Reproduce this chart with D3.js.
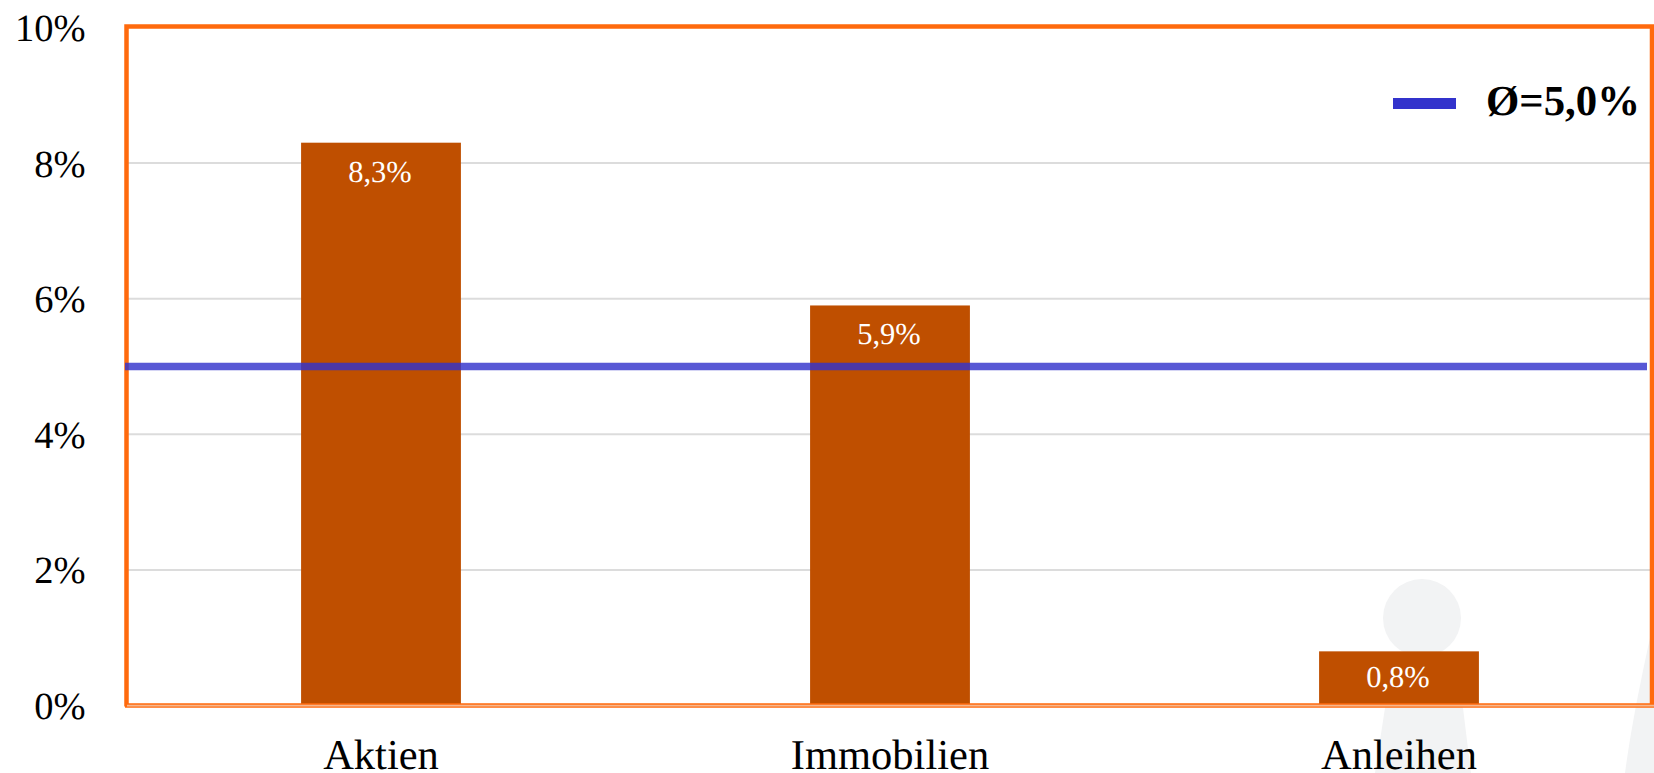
<!DOCTYPE html>
<html lang="de">
<head>
<meta charset="utf-8">
<title>Rendite nach Anlageklasse</title>
<script src="https://cdnjs.cloudflare.com/ajax/libs/d3/7.9.0/d3.min.js"></script>
<style>
  html, body { margin: 0; padding: 0; background: #fff; }
  svg { display: block; font-family: "Liberation Serif", "Times New Roman", serif; text-rendering: geometricPrecision; }
</style>
</head>
<body>
<svg id="chart" width="1654" height="773"></svg>
<script>
// Chart data
const categories = ["Aktien", "Immobilien", "Anleihen"];
const returns = [8.3, 5.9, 0.8];
const average = 5.0;
const yTicks = [0, 2, 4, 6, 8, 10];

const width = 1654, height = 773;
const plot = { left: 126.5, right: 1653.5, top: 27.4, bottom: 705.6 };
const frameColor = "#ff6a0d", barColor = "#bf4f00", lineColor = "#3333cc";
const comma = v => d3.format(".1f")(v).replace(".", ",") + "%";

const svg = d3.select("#chart");

const x = d3.scaleBand().domain(categories).range([plot.left, plot.right]).paddingInner(0.686).paddingOuter(0.343);
const y = d3.scaleLinear().domain([0, 10]).range([plot.bottom, plot.top]);

// Faint pawn-shaped figures behind the plot
const figures = svg.append("g").attr("fill", "#f2f3f4");
figures.append("circle").attr("cx", 1422).attr("cy", 618).attr("r", 39);
figures.append("path").attr("d", "M1408,650 L1436,650 C1445,675 1458,695 1463,708 L1471,773 L1375,773 L1385,708 C1392,690 1402,672 1408,650 Z");
figures.append("path").attr("d", "M1654,620 C1645,660 1632,720 1625,773 L1654,773 Z");

// Horizontal gridlines
svg.append("g").selectAll("line").data(yTicks.filter(t => t > 0 && t < 10)).join("line")
  .attr("x1", plot.left).attr("x2", plot.right - 2)
  .attr("y1", d => y(d)).attr("y2", d => y(d))
  .attr("stroke", "#dcdcdc").attr("stroke-width", 2);

// Bars
svg.append("g").selectAll("rect").data(categories).join("rect")
  .attr("x", d => x(d)).attr("width", x.bandwidth())
  .attr("y", (d, i) => y(returns[i]))
  .attr("height", (d, i) => y(0) - y(returns[i]))
  .attr("fill", barColor);

// Value labels inside the bars
svg.append("g").selectAll("text").data(categories).join("text")
  .attr("x", d => x(d) + x.bandwidth() / 2 - 1)
  .attr("y", (d, i) => Math.min(y(returns[i]) + 39, y(0) - 19))
  .attr("text-anchor", "middle").attr("font-size", 30.5).attr("fill", "#fff")
  .text((d, i) => comma(returns[i]));

// Plot frame: orange border with a light centre along the bottom edge
const frame = svg.append("g").attr("fill", "none");
frame.append("path")
  .attr("d", `M${plot.left},${plot.bottom + 1} V26.5 H1652 V${plot.bottom + 1}`)
  .attr("stroke", frameColor).attr("stroke-width", 4.5);
frame.append("line")
  .attr("x1", 125).attr("x2", 1654).attr("y1", plot.bottom).attr("y2", plot.bottom)
  .attr("stroke", frameColor).attr("stroke-width", 4.5);
frame.append("line")
  .attr("x1", 127).attr("x2", 1654).attr("y1", plot.bottom).attr("y2", plot.bottom)
  .attr("stroke", "#f6b78f").attr("stroke-width", 1.6);

// Average line
svg.append("line")
  .attr("x1", 125).attr("x2", 1647)
  .attr("y1", y(average)).attr("y2", y(average))
  .attr("stroke", lineColor).attr("stroke-opacity", 0.82).attr("stroke-width", 7.5);

// Value axis, drawn through d3's axis and stripped of its rule and ticks
const yAxis = svg.append("g")
  .attr("transform", `translate(${plot.left - 41},0)`)
  .call(d3.axisLeft(y).tickValues(yTicks).tickSize(0).tickPadding(0).tickFormat(d => d + "%"));
yAxis.select(".domain").remove();
yAxis.selectAll("text")
  .attr("fill", "#000").attr("dy", 13).attr("text-anchor", "end");
yAxis.attr("font-family", null).attr("font-size", 38.5);

// Category axis
const xAxis = svg.append("g")
  .attr("transform", `translate(0,769)`)
  .call(d3.axisBottom(x).tickSize(0).tickPadding(0));
xAxis.select(".domain").remove();
xAxis.attr("font-family", null).attr("font-size", 42.5);
xAxis.selectAll("text").attr("dy", 0).attr("y", 0).attr("fill", "#000");

// Legend
const legend = svg.append("g");
legend.append("rect").attr("x", 1393).attr("y", 98).attr("width", 63).attr("height", 11).attr("fill", lineColor);
legend.append("text").attr("x", 1486).attr("y", 115)
  .attr("font-size", 42.8).attr("font-weight", "bold").attr("fill", "#000")
  .text("Ø=" + comma(average));
</script>
</body>
</html>
